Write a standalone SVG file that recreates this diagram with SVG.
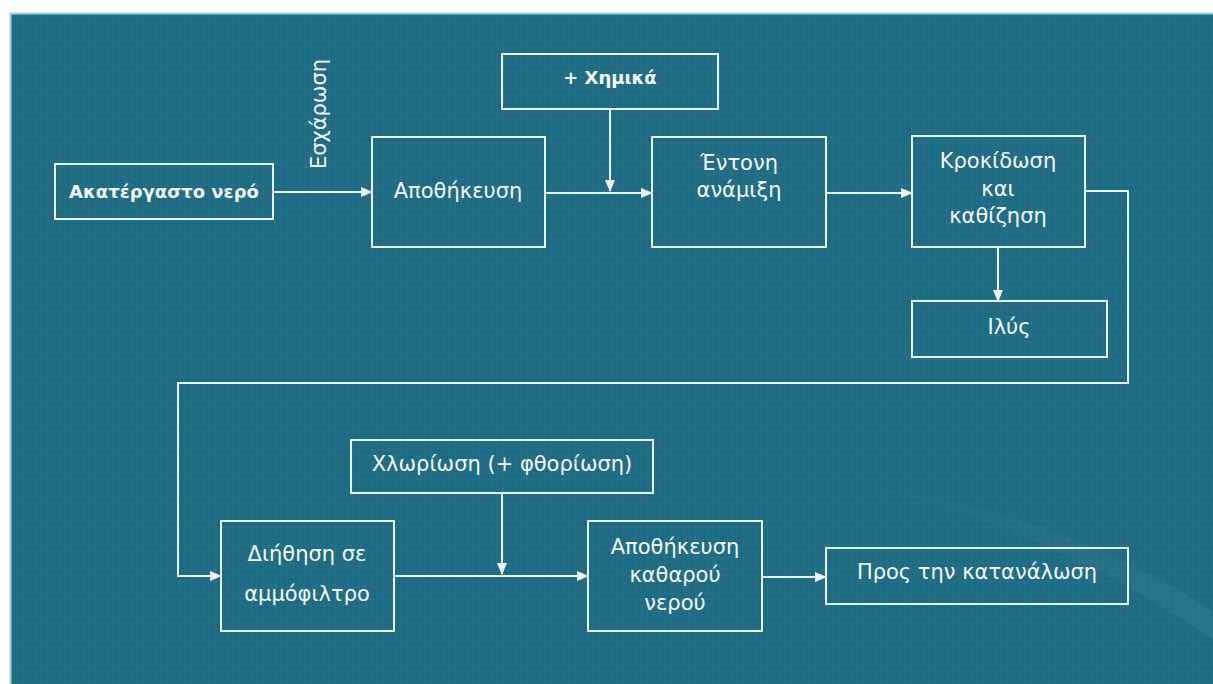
<svg xmlns="http://www.w3.org/2000/svg" width="1213" height="684" viewBox="0 0 1213 684">
<defs>
<pattern id="grid" width="6" height="6" patternUnits="userSpaceOnUse">
<path d="M6 0V6M0 6H6" stroke="#3a8aa0" stroke-width="0.6" fill="none" opacity="0.45"/>
</pattern>
<marker id="ah" markerWidth="12" markerHeight="10" refX="11" refY="5" orient="auto" markerUnits="userSpaceOnUse">
<path d="M0,0 L12,5 L0,10 Z" fill="#eef8f8"/>
</marker>
<linearGradient id="sweep" x1="0" y1="0" x2="1" y2="1">
<stop offset="0" stop-color="#ffffff" stop-opacity="0"/>
<stop offset="1" stop-color="#ffffff" stop-opacity="0.05"/>
</linearGradient>
</defs>
<style>
.box{fill:none;stroke:#e6f4f4;stroke-width:2}
.t{font-family:"DejaVu Sans","Liberation Sans",sans-serif;font-size:21px;fill:#f2fafa;text-anchor:middle}
.b{font-weight:bold;font-size:18px}
.c{fill:none;stroke:#e6f4f4;stroke-width:2}
</style>
<rect x="0" y="0" width="1213" height="684" fill="#ffffff"/>
<rect x="10" y="13" width="1203" height="671" fill="#1f6b83"/>
<rect x="10" y="13" width="1203" height="671" fill="url(#grid)"/>
<path d="M820,480 C960,500 1100,560 1213,640 L1213,612 C1100,536 960,492 820,480 Z" fill="url(#sweep)"/>
<path d="M10.5,684 V13.5 H1213" fill="none" stroke="#9ed0d6" stroke-width="2"/>

<g id="connectors">
<path class="c" d="M273,192 H372" marker-end="url(#ah)"/>
<path class="c" d="M545,193 H652" marker-end="url(#ah)"/>
<path class="c" d="M610,109 V191" marker-end="url(#ah)"/>
<path class="c" d="M826,193 H912" marker-end="url(#ah)"/>
<path class="c" d="M998,247 V301" marker-end="url(#ah)"/>
<path class="c" d="M1085,191 H1128 V383 H178 V576 H221" marker-end="url(#ah)"/>
<path class="c" d="M394,576 H588" marker-end="url(#ah)"/>
<path class="c" d="M502,493 V574" marker-end="url(#ah)"/>
<path class="c" d="M762,577 H826" marker-end="url(#ah)"/>
</g>

<g id="escharosi">
<text class="t" transform="translate(326,114) rotate(-90)">Εσχάρωση</text>
</g>

<g id="raw-water">
<rect class="box" x="55" y="164" width="218" height="55"/>
<text class="t b" x="164" y="198">Ακατέργαστο νερό</text>
</g>

<g id="storage">
<rect class="box" x="372" y="137" width="173" height="110"/>
<text class="t" x="458" y="198">Αποθήκευση</text>
</g>

<g id="chemicals">
<rect class="box" x="502" y="54" width="216" height="55"/>
<text class="t b" x="610" y="84">+ Χημικά</text>
</g>

<g id="mixing">
<rect class="box" x="652" y="137" width="174" height="110"/>
<text class="t" x="739" y="170">Έντονη</text>
<text class="t" x="739" y="197">ανάμιξη</text>
</g>

<g id="flocculation">
<rect class="box" x="912" y="136" width="173" height="111"/>
<text class="t" x="998" y="168">Κροκίδωση</text>
<text class="t" x="998" y="196">και</text>
<text class="t" x="998" y="223">καθίζηση</text>
</g>

<g id="sludge">
<rect class="box" x="912" y="301" width="195" height="56"/>
<text class="t" x="1009" y="334">Ιλύς</text>
</g>

<g id="chlorination">
<rect class="box" x="351" y="440" width="302" height="53"/>
<text class="t" x="502" y="471">Χλωρίωση (+ φθορίωση)</text>
</g>

<g id="sand-filter">
<rect class="box" x="221" y="521" width="173" height="110"/>
<text class="t" x="307" y="561">Διήθηση σε</text>
<text class="t" x="307" y="601">αμμόφιλτρο</text>
</g>

<g id="clean-storage">
<rect class="box" x="588" y="521" width="174" height="110"/>
<text class="t" x="675" y="554">Αποθήκευση</text>
<text class="t" x="675" y="582">καθαρού</text>
<text class="t" x="675" y="610">νερού</text>
</g>

<g id="consumption">
<rect class="box" x="826" y="548" width="302" height="56"/>
<text class="t" x="977" y="579">Προς την κατανάλωση</text>
</g>
</svg>
